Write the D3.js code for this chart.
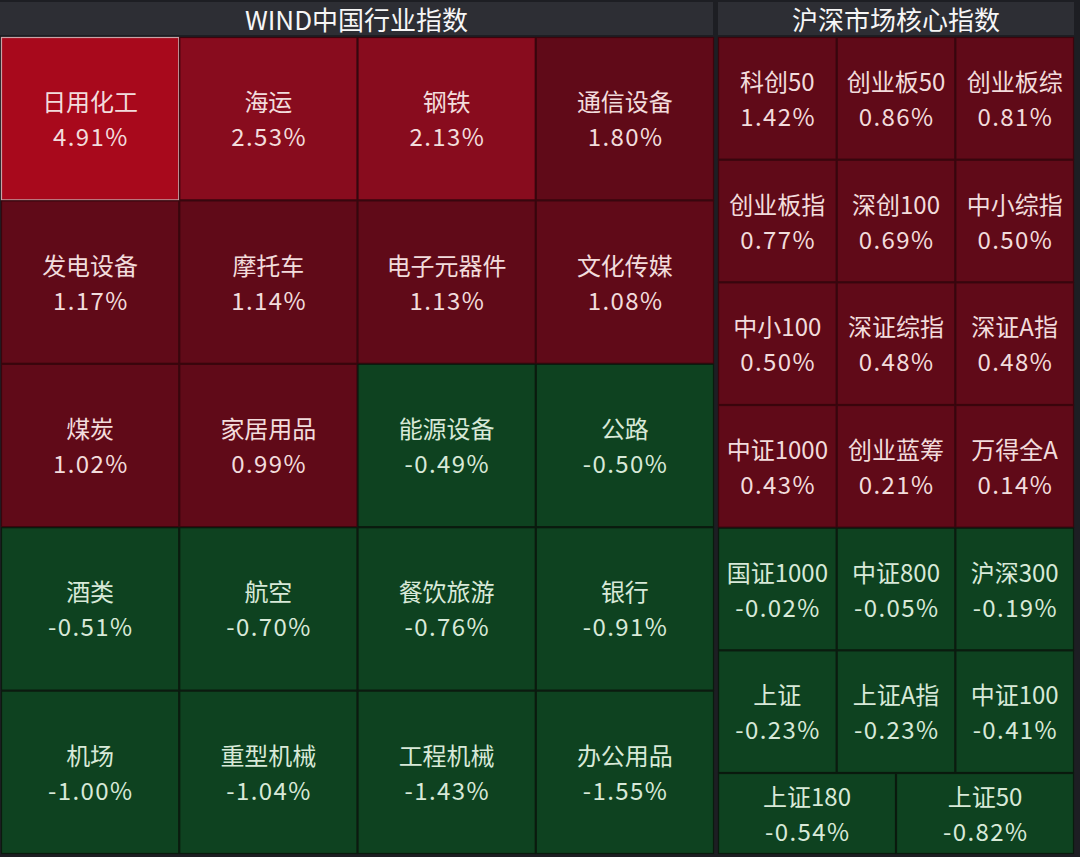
<!DOCTYPE html>
<html><head><meta charset="utf-8">
<script src="https://cdn.jsdelivr.net/npm/d3@7/dist/d3.min.js"></script>
<style>html,body{margin:0;padding:0;background:#1d1e23;}svg{display:block;}</style>
</head><body>
<script>
const leftTitle = "WIND中国行业指数";
const rightTitle = "沪深市场核心指数";
const leftNames = ["日用化工","海运","钢铁","通信设备","发电设备","摩托车","电子元器件","文化传媒","煤炭","家居用品","能源设备","公路","酒类","航空","餐饮旅游","银行","机场","重型机械","工程机械","办公用品"];
const leftValues = [4.91,2.53,2.13,1.80,1.17,1.14,1.13,1.08,1.02,0.99,-0.49,-0.50,-0.51,-0.70,-0.76,-0.91,-1.00,-1.04,-1.43,-1.55];
const rightNames = ["科创50","创业板50","创业板综","创业板指","深创100","中小综指","中小100","深证综指","深证A指","中证1000","创业蓝筹","万得全A","国证1000","中证800","沪深300","上证","上证A指","中证100","上证180","上证50"];
const rightValues = [1.42,0.86,0.81,0.77,0.69,0.50,0.50,0.48,0.48,0.43,0.21,0.14,-0.02,-0.05,-0.19,-0.23,-0.23,-0.41,-0.54,-0.82];

const W = 1080, H = 857;
const svg = d3.select("body").append("svg").attr("width", W).attr("height", H);
svg.append("rect").attr("width", W).attr("height", H).attr("fill", "#1d1e23");

const fill = d3.scaleThreshold().domain([0, 2, 4]).range(["#0e4220", "#600a18", "#880c1e", "#a8091c"]);
const textCol = v => v >= 0 ? "#f2dcdc" : "#d8e9d8";
const font = "'Noto Sans CJK SC','Microsoft YaHei',sans-serif";

// title bars
const titles = [
  {t: leftTitle, x0: 0, x1: 713},
  {t: rightTitle, x0: 718, x1: 1074}
];
titles.forEach(d => {
  svg.append("rect").attr("x", d.x0).attr("y", 2).attr("width", d.x1 - d.x0).attr("height", 33).attr("fill", "#2d2e34");
  svg.append("text").attr("x", (d.x0 + d.x1) / 2).attr("y", 18).attr("text-anchor", "middle")
    .attr("dominant-baseline", "central").attr("fill", "#f6f6f6").attr("font-family", font)
    .attr("font-size", 26).text(d.t);
});

// left grid
const lx = d3.scaleBand().domain(d3.range(4)).range([1, 714]);
const ly = d3.scaleBand().domain(d3.range(5)).range([37, 854]);
const leftCells = leftNames.map((n, i) => ({
  name: n, value: leftValues[i],
  x: lx(i % 4), y: ly(Math.floor(i / 4)), w: lx.bandwidth(), h: ly.bandwidth()
}));

// right grid: 6 rows of 3, then last row of 2
const rxs = d3.scaleBand().domain(d3.range(3)).range([718, 1074]);
const rx2 = d3.scaleBand().domain(d3.range(2)).range([718, 1074]);
const ry = d3.scaleBand().domain(d3.range(6)).range([37, 773]);
const rightCells = rightNames.map((n, i) => {
  if (i < 18) {
    return {name: n, value: rightValues[i], x: rxs(i % 3), y: ry(Math.floor(i / 3)), w: rxs.bandwidth(), h: ry.bandwidth()};
  }
  return {name: n, value: rightValues[i], x: rx2(i - 18), y: 773, w: rx2.bandwidth(), h: 854 - 773};
});

function drawCells(cells, cls) {
  const g = svg.append("g").attr("class", cls);
  const c = g.selectAll("g").data(cells).join("g");
  c.append("rect").attr("x", d => d.x + 0.5).attr("y", d => d.y + 0.5)
    .attr("width", d => d.w - 1).attr("height", d => d.h - 1)
    .attr("fill", d => fill(d.value))
    .attr("stroke", d => d.value >= 0 ? "#3a050c" : "#0a1a0e").attr("stroke-width", 1.2);
  c.append("text").attr("x", d => d.x + d.w / 2).attr("y", d => d.y + d.h / 2 - 18)
    .attr("text-anchor", "middle").attr("dominant-baseline", "central")
    .attr("fill", d => textCol(d.value)).attr("font-family", font).attr("font-size", 24)
    .text(d => d.name);
  c.append("text").attr("x", d => d.x + d.w / 2 + 0.7).attr("y", d => d.y + d.h / 2 + 17)
    .attr("text-anchor", "middle").attr("dominant-baseline", "central")
    .attr("fill", d => textCol(d.value)).attr("font-family", font).attr("font-size", 24)
    .attr("letter-spacing", 1.4)
    .text(d => d.value.toFixed(2) + "%");
  return c;
}
const lc = drawCells(leftCells, "left");
drawCells(rightCells, "right");
// highlighted first cell border
lc.filter((d, i) => i === 0).select("rect").attr("stroke", "#c9a3a6").attr("stroke-width", 1.2);
</script>
</body></html>
